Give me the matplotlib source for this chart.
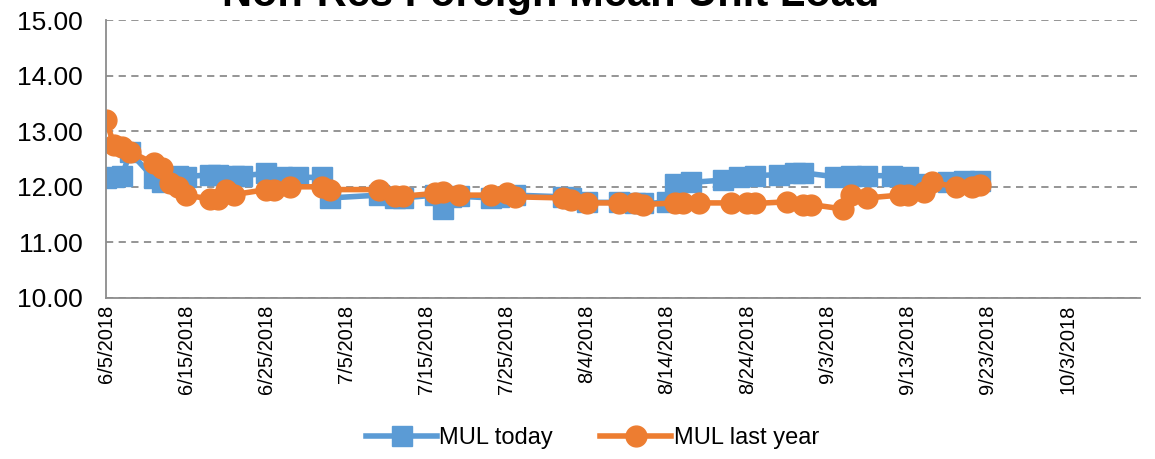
import datetime as dt
import matplotlib
matplotlib.use("Agg")
import matplotlib.pyplot as plt

# MUL today (blue squares)
today_dates = ["2018-06-05", "2018-06-06", "2018-06-07", "2018-06-08", "2018-06-11",
               "2018-06-12", "2018-06-14", "2018-06-15", "2018-06-18", "2018-06-19",
               "2018-06-21", "2018-06-22", "2018-06-25", "2018-06-27", "2018-06-29",
               "2018-07-02", "2018-07-03", "2018-07-09", "2018-07-11", "2018-07-12",
               "2018-07-16", "2018-07-17", "2018-07-18", "2018-07-19", "2018-07-23",
               "2018-07-24", "2018-07-26", "2018-08-01", "2018-08-02", "2018-08-04",
               "2018-08-08", "2018-08-10", "2018-08-11", "2018-08-14", "2018-08-15",
               "2018-08-17", "2018-08-21", "2018-08-23", "2018-08-25", "2018-08-28",
               "2018-08-30", "2018-08-31", "2018-09-04", "2018-09-06", "2018-09-08",
               "2018-09-11", "2018-09-13", "2018-09-15", "2018-09-18", "2018-09-20",
               "2018-09-22"]
today_vals = [12.15, 12.18, 12.2, 12.62, 12.15,
              12.08, 12.2, 12.18, 12.22, 12.22,
              12.2, 12.2, 12.24, 12.18, 12.17,
              12.17, 11.8, 11.85, 11.8, 11.8,
              11.85, 11.6, 11.82, 11.83, 11.8,
              11.82, 11.85, 11.82, 11.8, 11.72,
              11.72, 11.7, 11.7, 11.72, 12.05,
              12.08, 12.12, 12.17, 12.2, 12.22,
              12.25, 12.25, 12.18, 12.2, 12.2,
              12.2, 12.18, 12.05, 12.08, 12.1,
              12.1]

# MUL last year (orange circles)
last_dates = ["2018-06-05", "2018-06-06", "2018-06-07", "2018-06-08", "2018-06-11",
              "2018-06-12", "2018-06-13", "2018-06-14", "2018-06-15", "2018-06-18",
              "2018-06-19", "2018-06-20", "2018-06-21", "2018-06-25", "2018-06-26",
              "2018-06-28", "2018-07-02", "2018-07-03", "2018-07-09", "2018-07-11",
              "2018-07-12", "2018-07-16", "2018-07-17", "2018-07-19", "2018-07-23",
              "2018-07-25", "2018-07-26", "2018-08-01", "2018-08-02", "2018-08-04",
              "2018-08-08", "2018-08-10", "2018-08-11", "2018-08-15", "2018-08-16",
              "2018-08-18", "2018-08-22", "2018-08-24", "2018-08-25", "2018-08-29",
              "2018-08-31", "2018-09-01", "2018-09-05", "2018-09-06", "2018-09-08",
              "2018-09-12", "2018-09-13", "2018-09-15", "2018-09-16", "2018-09-19",
              "2018-09-21", "2018-09-22"]
last_vals = [13.2, 12.75, 12.72, 12.63, 12.42,
             12.33, 12.07, 12.0, 11.85, 11.78,
             11.78, 11.94, 11.86, 11.95, 11.95,
             12.0, 12.0, 11.95, 11.95, 11.83,
             11.83, 11.88, 11.9, 11.85, 11.85,
             11.88, 11.82, 11.8, 11.77, 11.71,
             11.71, 11.71, 11.68, 11.71, 11.71,
             11.71, 11.71, 11.7, 11.7, 11.73,
             11.68, 11.68, 11.6, 11.86, 11.8,
             11.85, 11.86, 11.9, 12.08, 12.0,
             12.0, 12.03]

BLUE = "#5B9BD5"
ORANGE = "#ED7D31"
FONT = "Liberation Sans"

def to_dt(s):
    return dt.datetime.strptime(s, "%Y-%m-%d")

fig = plt.figure(figsize=(11.55, 4.59), dpi=100)
ax = fig.add_axes([0.0918, 0.3508, 0.987 - 0.0918, 0.9564 - 0.3508])

ax.plot([to_dt(d) for d in today_dates], today_vals, color=BLUE, lw=4,
        marker="s", markersize=14, label="MUL today")
ax.plot([to_dt(d) for d in last_dates], last_vals, color=ORANGE, lw=4,
        marker="o", markersize=15, label="MUL last year")

start = dt.datetime(2018, 6, 5)
ax.set_xlim(start, start + dt.timedelta(days=129))
ax.set_ylim(10, 15)
ticks = [start + dt.timedelta(days=10 * i) for i in range(13)]
ax.set_xticks(ticks)
ax.set_xticklabels([f"{d.month}/{d.day}/{d.year}" for d in ticks], rotation=90,
                   fontsize=14.5, family=FONT)
ax.set_yticks([10, 11, 12, 13, 14, 15])
ax.set_yticklabels([f"{v:.2f}" for v in [10, 11, 12, 13, 14, 15]], fontsize=19, family=FONT)
ax.tick_params(axis="y", length=0, pad=17)
ax.tick_params(axis="x", length=0, pad=5)

ax.grid(axis="y", color="#8c8c8c", linestyle=(0, (4, 3)), lw=1.3)
ax.set_axisbelow(True)
for s in ["top", "right"]:
    ax.spines[s].set_visible(False)
for s in ["left", "bottom"]:
    ax.spines[s].set_color("#8c8c8c")
    ax.spines[s].set_linewidth(1.3)

# title is partly cut off at the top, like the original
fig.text(0.477, 1 - 6 / 459, "Non-Res Foreign Mean Unit Load", ha="center", va="baseline",
         fontsize=30, fontweight="bold", family=FONT)

fig.legend(loc="lower center", bbox_to_anchor=(0.513, -0.025), ncol=2, frameon=False,
           prop={"family": FONT, "size": 17}, handlelength=3.0, columnspacing=2.0,
           handletextpad=0.1)

fig.savefig("out.png", dpi=100)
